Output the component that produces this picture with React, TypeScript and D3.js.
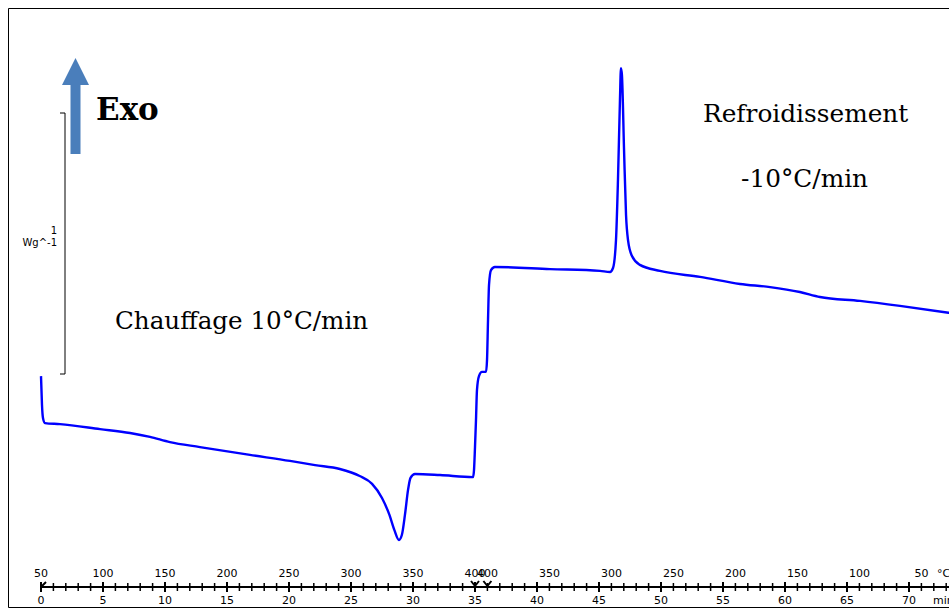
import React from "react";
import * as d3 from "d3";

// Heat flow curve: time (min) vs heat flow (W/g, arbitrary offset)
const timeMin = [0, 0.08, 0.16, 0.32, 1.53, 4.76, 7.18, 8.79, 10.4, 12.82, 16.85, 20.08, 22.1, 24.1, 25.7, 26.7, 27.5, 28.1, 28.5, 28.87, 29.1, 29.35, 29.6, 29.8, 30.16, 32.18, 34.84, 34.92, 35.0, 35.08, 35.16, 35.32, 35.56, 35.89, 35.97, 36.05, 36.13, 36.29, 36.6, 41.05, 45.08, 45.89, 46.13, 46.37, 46.53, 46.69, 46.77, 46.85, 47.02, 47.18, 47.34, 47.66, 48.3, 49.92, 53.15, 56.37, 58.8, 61.2, 62.82, 66.05, 69.27, 73.3];
const heatFlow = [-0.008, -0.119, -0.169, -0.188, -0.192, -0.211, -0.226, -0.241, -0.261, -0.28, -0.31, -0.333, -0.349, -0.364, -0.391, -0.421, -0.475, -0.54, -0.598, -0.636, -0.617, -0.54, -0.444, -0.398, -0.383, -0.387, -0.395, -0.368, -0.28, -0.176, -0.061, -0.008, 0.008, 0.008, 0.054, 0.207, 0.341, 0.398, 0.41, 0.402, 0.395, 0.391, 0.406, 0.513, 0.743, 1.05, 1.172, 1.145, 0.858, 0.609, 0.513, 0.452, 0.418, 0.395, 0.372, 0.345, 0.333, 0.314, 0.295, 0.28, 0.261, 0.234];

const minuteTicks = d3.range(0, 74, 5);
const tempTickMin = [0, 5, 10, 15, 20, 25, 30, 35, 36, 41, 46, 51, 56, 61, 66, 71];
const tempTickLabel = ["50", "100", "150", "200", "250", "300", "350", "400", "400", "350", "300", "250", "200", "150", "100", "50"];
const segmentMarks = [35, 36];

export default function App() {
  const W = 949, H = 608;
  const x = d3.scaleLinear().domain([0, 70]).range([41, 909]);
  const y = d3.scaleLinear().domain([0, 1]).range([374, 113]);
  const pts: [number, number][] = timeMin.map((t, i) => [t, heatFlow[i]]);
  const line = d3
    .line<[number, number]>()
    .x((d) => x(d[0]))
    .y((d) => y(d[1]))
    .curve(d3.curveMonotoneX);
  const axisY = 587;
  const minorTicks = d3.range(0, 74, 1);
  const tickFont = "'DejaVu Sans', Verdana, sans-serif";
  const serif = "'DejaVu Serif', 'Liberation Serif', serif";
  return (
    <svg width={W} height={H} style={{ position: "absolute", left: 0, top: 0 }}>
      <defs>
        <clipPath id="plotclip">
          <rect x={9} y={9} width={W - 9} height={560} />
        </clipPath>
      </defs>
      <rect x={0} y={0} width={W} height={H} fill="#fff" />
      {/* frame */}
      <line x1={8.5} y1={8.5} x2={W} y2={8.5} stroke="#000" strokeWidth={1} />
      <line x1={8.5} y1={8.5} x2={8.5} y2={H - 0.5} stroke="#000" strokeWidth={1} />
      <line x1={8.5} y1={H - 0.5} x2={W} y2={H - 0.5} stroke="#000" strokeWidth={1} />

      {/* Exo arrow */}
      <path d="M62,85 L75.5,58 L89,85 L80.5,85 L80.5,154 L70.5,154 L70.5,85 Z" fill="#4a7ebb" />
      <text x={96} y={120} fontFamily={serif} fontWeight="bold" fontSize={31} fill="#000">Exo</text>

      {/* scale bar */}
      <path d={`M60,${y(1)} H65 V${y(0)} H60`} fill="none" stroke="#000" strokeWidth={1} />
      <text x={57} y={234} fontFamily={tickFont} fontSize={10} textAnchor="end">1</text>
      <text x={57} y={246} fontFamily={tickFont} fontSize={10} textAnchor="end">Wg^-1</text>

      {/* annotations */}
      <text x={115} y={329} fontFamily={serif} fontSize={24.6} fill="#000">Chauffage 10°C/min</text>
      <text x={703} y={122} fontFamily={serif} fontSize={24.8} fill="#000">Refroidissement</text>
      <text x={741} y={187} fontFamily={serif} fontSize={24.8} fill="#000">-10°C/min</text>

      {/* curve */}
      <path d={line(pts) || ""} fill="none" stroke="#0000ff" strokeWidth={2.4} clipPath="url(#plotclip)" />

      {/* bottom axis */}
      <line x1={x(0)} y1={axisY} x2={W} y2={axisY} stroke="#000" strokeWidth={2} />
      {minorTicks.map((m) => {
        const major = m % 5 === 0;
        const h = major ? 5 : 4;
        return <line key={"t" + m} x1={x(m)} x2={x(m)} y1={axisY - h} y2={axisY + h} stroke="#000" strokeWidth={major ? 2 : 1.5} />;
      })}
      <path d={`M${x(0) + 5},${axisY - 5} L${x(0)},${axisY} M${x(0)},${axisY - 5} V${axisY + 5}`} fill="none" stroke="#000" strokeWidth={2} />
      {segmentMarks.map((m) => (
        <path key={"s" + m} d={`M${x(m) - 4},${axisY - 6} L${x(m)},${axisY - 1} L${x(m) + 4},${axisY - 6}`} fill="none" stroke="#000" strokeWidth={2} />
      ))}
      {minuteTicks.map((m) => (
        <text key={"m" + m} x={x(m)} y={604} fontFamily={tickFont} fontSize={11} textAnchor="middle">{m}</text>
      ))}
      {tempTickMin.map((m, i) => (
        <text key={"c" + i} x={x(m)} y={577} fontFamily={tickFont} fontSize={11} textAnchor="middle">{tempTickLabel[i]}</text>
      ))}
      <text x={937} y={577} fontFamily={tickFont} fontSize={11}>°C</text>
      <text x={933} y={604} fontFamily={tickFont} fontSize={11}>min</text>
    </svg>
  );
}
